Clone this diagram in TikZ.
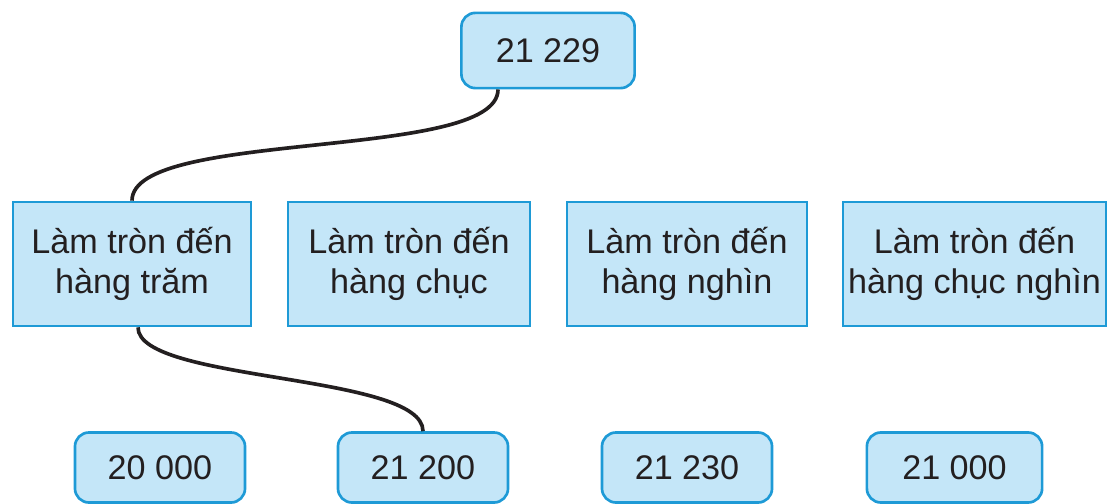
\documentclass[tikz,border=0pt]{standalone}
\usepackage{fontspec}
\setmainfont{Liberation Sans}
\usepackage{tikz}
\usetikzlibrary{calc,positioning}
\definecolor{edgec}{HTML}{1E9AD6}
\definecolor{fillc}{HTML}{C4E6F8}
\definecolor{textc}{HTML}{231F20}
\tikzset{
  numbox/.style={draw=edgec,line width=1.9pt,rounded corners=0.35cm,fill=fillc,text=textc,
    minimum width=4.25cm,minimum height=1.75cm,inner sep=0pt,font=\fontsize{24.3}{28.5}\selectfont},
  tabbox/.style={draw=edgec,line width=1.9pt,fill=fillc,text=textc,align=center,
    minimum height=3.1cm,inner sep=0pt,font=\fontsize{24.3}{28.5}\selectfont},
  wire/.style={line width=2.6pt,textc}
}
\begin{document}
\begin{tikzpicture}[x=0.025cm,y=-0.025cm]
\useasboundingbox (0,0) rectangle (1108,504);
% so ban dau
\node[numbox,minimum width=4.33cm,minimum height=1.88cm] (top) at (548,50.5) {21 229};
% cac cach lam tron
\node[tabbox,minimum width=5.95cm] (b1) at (132,264) {Làm tròn đến\\hàng trăm};
\node[tabbox,minimum width=6.05cm] (b2) at (409,264) {Làm tròn đến\\hàng chục};
\node[tabbox,minimum width=6.0cm] (b3) at (687,264) {Làm tròn đến\\hàng nghìn};
\node[tabbox,minimum width=6.58cm] (b4) at (974.5,264) {Làm tròn đến\\hàng chục nghìn};
% ket qua
\node[numbox] (n1) at (160,467.5) {20 000};
\node[numbox] (n2) at (423,467.5) {21 200};
\node[numbox] (n3) at (687,467.5) {21 230};
\node[numbox,minimum width=4.38cm] (n4) at (954.5,467.5) {21 000};
% day noi
\draw[wire] ($(top.south)+(-50,0)$) .. controls +(0,72) and +(0,-72) .. (b1.north);
\draw[wire] ($(b1.south)+(6,0)$) .. controls +(0,55) and +(0,-58) .. (n2.north);
\end{tikzpicture}
\end{document}
